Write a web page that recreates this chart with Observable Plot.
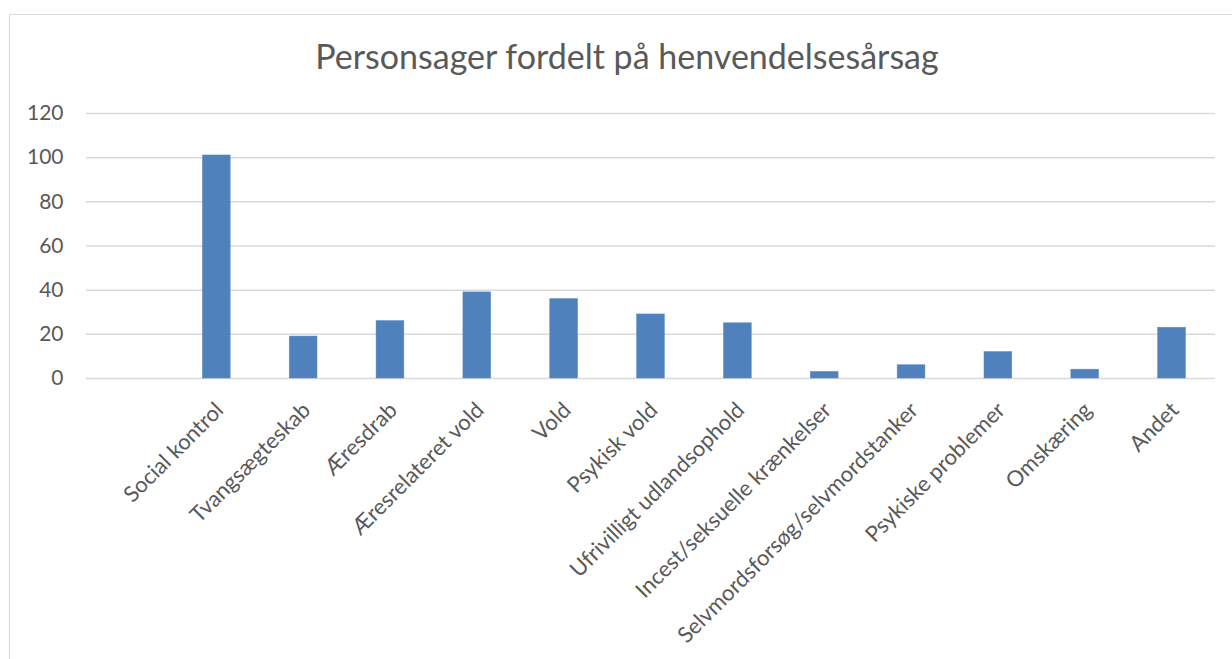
<!DOCTYPE html>
<html>
<head>
<meta charset="utf-8">
<script src="https://cdn.jsdelivr.net/npm/d3@7"></script>
<script src="https://cdn.jsdelivr.net/npm/@observablehq/plot@0.6"></script>
<style>
  html, body { margin: 0; padding: 0; background: #fff; }
  #wrap { position: relative; width: 1232px; height: 659px; overflow: hidden; font-family: Lato, "Open Sans", sans-serif; }
  #frame { position: absolute; left: 9px; top: 14px; width: 1300px; height: 800px; border-left: 1.5px solid #d9d9d9; border-top: 1.5px solid #d9d9d9; box-sizing: border-box; }
  #title { position: absolute; left: 0; width: 1254px; top: 36px; text-align: center; font-size: 34px; font-weight: 400; color: #595959; line-height: 40px; white-space: nowrap; }
  #chart { position: absolute; left: 0; top: 0; }
</style>
</head>
<body>
<div id="wrap">
  <div id="frame"></div>
  <div id="title">Personsager fordelt på henvendelsesårsag</div>
  <div id="chart"></div>
</div>
<script>
const categories = [
  "Social kontrol",
  "Tvangsægteskab",
  "Æresdrab",
  "Æresrelateret vold",
  "Vold",
  "Psykisk vold",
  "Ufrivilligt udlandsophold",
  "Incest/seksuelle krænkelser",
  "Selvmordsforsøg/selvmordstanker",
  "Psykiske problemer",
  "Omskæring",
  "Andet"
];
const values = [101, 19, 26, 39, 36, 29, 25, 3, 6, 12, 4, 23];
const yTicks = [0, 20, 40, 60, 80, 100, 120];

const data = categories.map((c, i) => ({category: c, value: values[i]}));

const chart = Plot.plot({
  width: 1232,
  height: 659,
  marginTop: 113,
  marginBottom: 281,
  marginLeft: 86,
  marginRight: 17,
  style: {fontFamily: "Lato, 'Open Sans', sans-serif", background: "transparent", overflow: "visible"},
  x: {domain: ["", ...categories], paddingInner: 0.68, paddingOuter: 0.34, align: 0.5, round: false, axis: null},
  y: {domain: [0, 120], axis: null},
  marks: [
    Plot.ruleY(yTicks, {stroke: "#d9d9d9", strokeWidth: 1.5}),
    Plot.barY(data, {x: "category", y: "value", fill: "#4f81bd", stroke: "#5b8cc6", strokeWidth: 0.5}),
    Plot.axisY({ticks: yTicks, tickSize: 0, tickPadding: 23, fontSize: 21, fill: "#595959", label: null}),
    Plot.text(categories, {
      x: d => d, y: () => 0, text: d => d,
      rotate: -45, textAnchor: "end", lineAnchor: "middle",
      dx: 3, dy: 28, fontSize: 22, fill: "#595959"
    })
  ]
});
document.getElementById("chart").appendChild(chart);
</script>
</body>
</html>
